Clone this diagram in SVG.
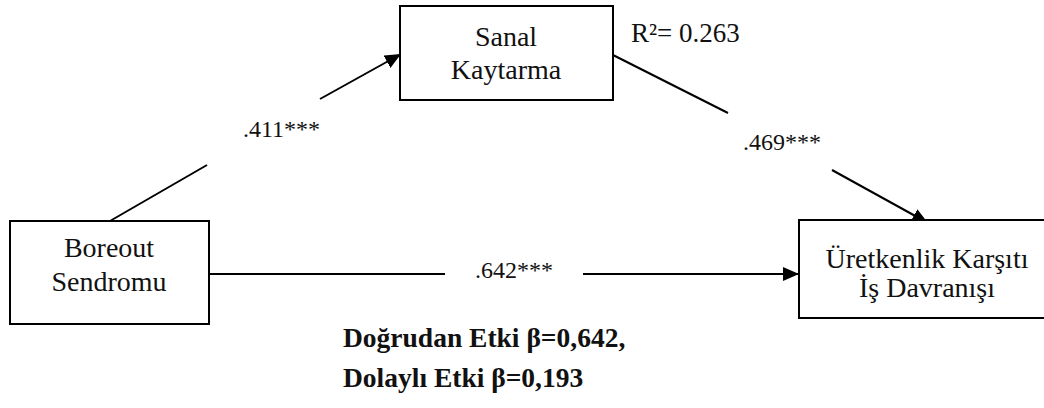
<svg xmlns="http://www.w3.org/2000/svg" width="1044" height="408" viewBox="0 0 1044 408">
<style>
.box{fill:#fff;stroke:#000;stroke-width:2}
.ln{fill:none;stroke:#000;stroke-width:2}
.t{font-family:"Liberation Serif","Times New Roman",serif;font-size:28px;fill:#111;text-anchor:middle}
.n{font-family:"Liberation Serif","Times New Roman",serif;font-size:24px;fill:#111}
.b{font-family:"Liberation Serif","Times New Roman",serif;font-size:27.5px;font-weight:bold;fill:#111}
</style>
<defs>
<marker id="ah" viewBox="0 0 16 14" refX="16" refY="7" markerWidth="16" markerHeight="14" markerUnits="userSpaceOnUse" orient="auto">
<path d="M0,0 L16,7 L0,14 z" fill="#000"/>
</marker>
</defs>
<rect width="1044" height="408" fill="#fff"/>
<g id="connectors">
<line class="ln" x1="110" y1="221" x2="207" y2="165"/>
<line class="ln" x1="320" y1="99" x2="401" y2="54" marker-end="url(#ah)"/>
<line class="ln" x1="613" y1="55" x2="728" y2="113"/>
<line class="ln" x1="832" y1="170" x2="928" y2="223" marker-end="url(#ah)"/>
<line class="ln" x1="209" y1="274" x2="445" y2="274"/>
<line class="ln" x1="583" y1="274" x2="799" y2="274" marker-end="url(#ah)"/>
<text class="n" x="243" y="137">.411***</text>
<text class="n" x="743" y="150">.469***</text>
<text class="n" x="475" y="278">.642***</text>
</g>
<g id="sanal">
<rect class="box" x="400" y="6" width="213" height="94"/>
<text class="t" x="506" y="46">Sanal</text>
<text class="t" x="506" y="79">Kaytarma</text>
</g>
<text class="n" x="631" y="42" style="font-size:27px">R²= 0.263</text>
<g id="boreout">
<rect class="box" x="10" y="221" width="199" height="103"/>
<text class="t" x="109" y="257">Boreout</text>
<text class="t" x="109" y="291">Sendromu</text>
</g>
<g id="uretkenlik">
<rect class="box" x="799" y="220" width="260" height="98"/>
<text class="t" x="927" y="268">Üretkenlik Karşıtı</text>
<text class="t" x="927" y="297">İş Davranışı</text>
</g>
<g id="notes">
<text class="b" x="343" y="347">Doğrudan Etki β=0,642,</text>
<text class="b" x="343" y="387">Dolaylı Etki β=0,193</text>
</g>
</svg>
